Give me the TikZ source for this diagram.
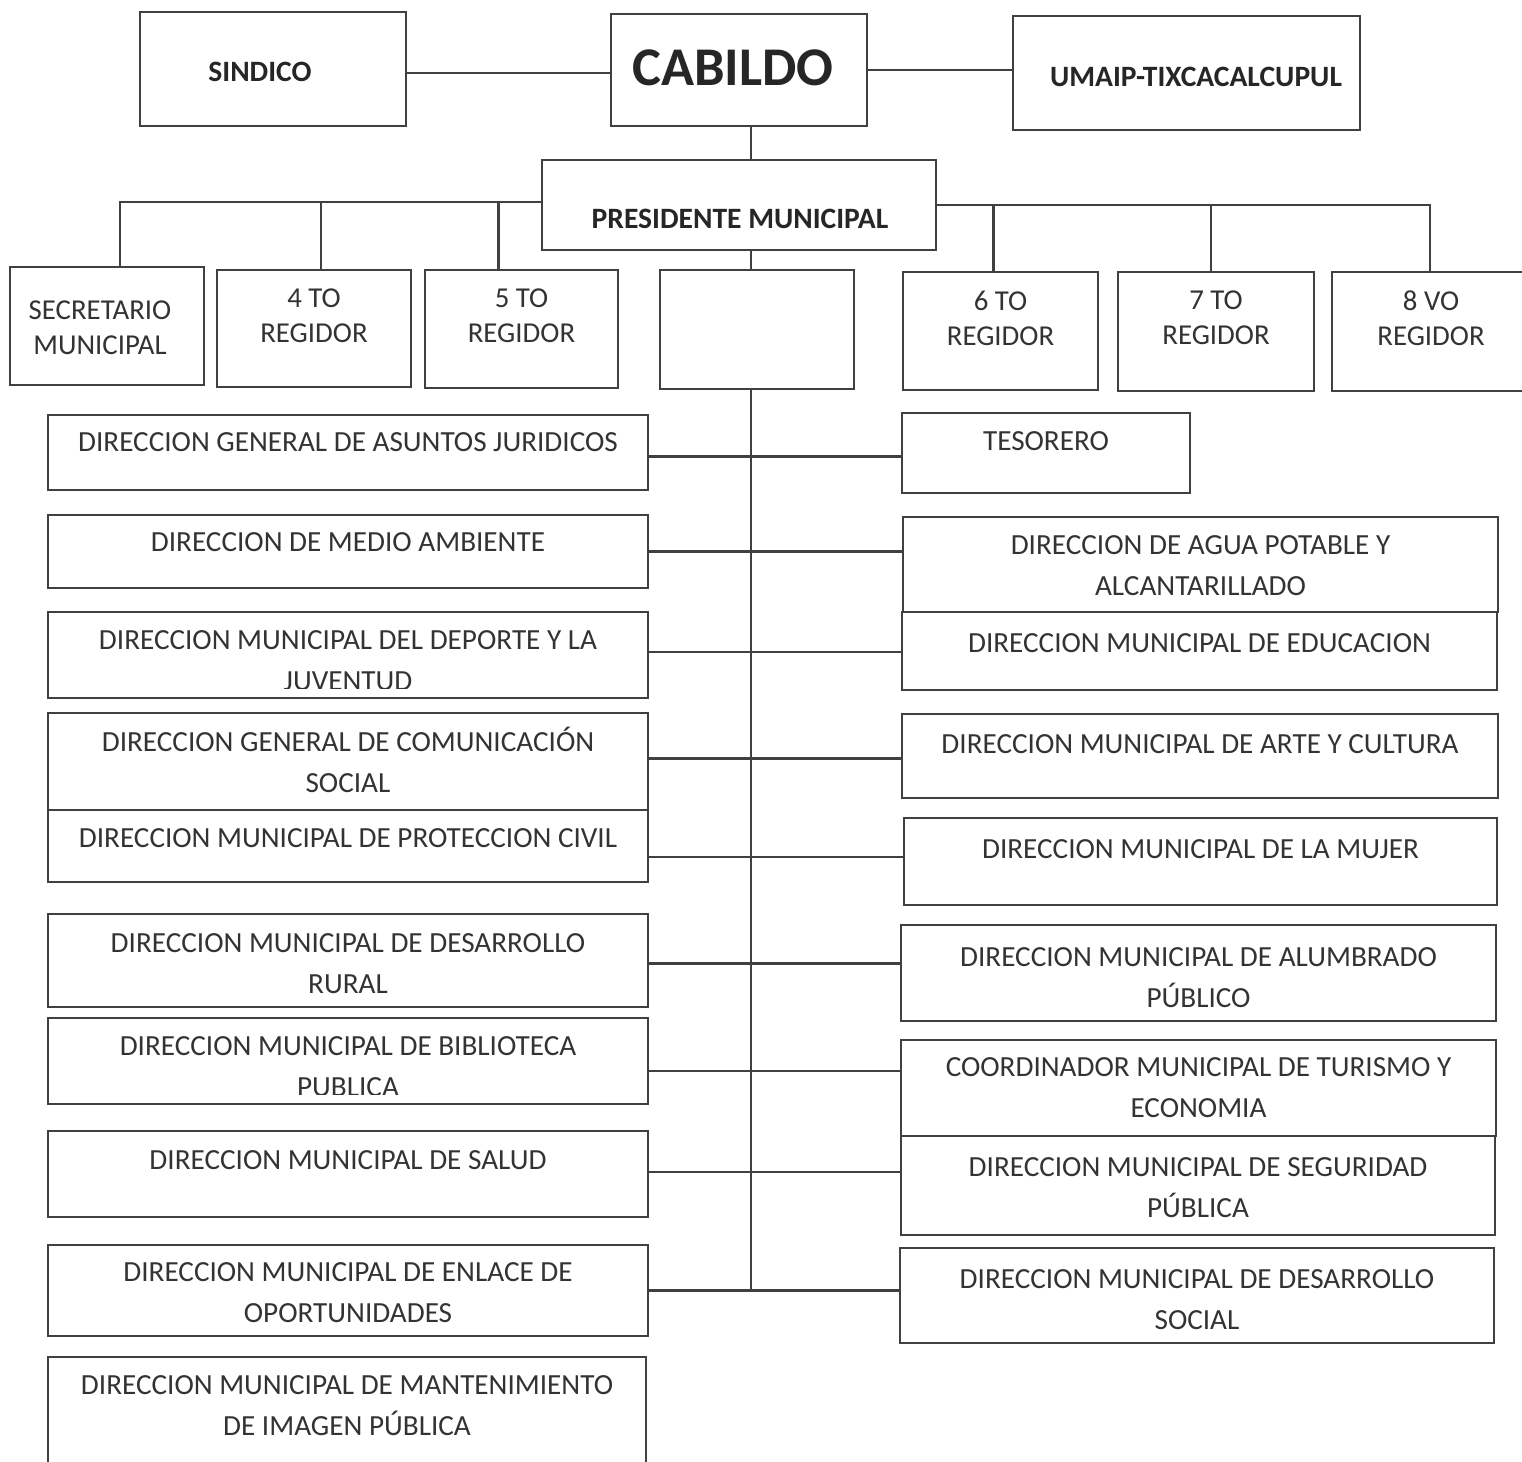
\documentclass[tikz,border=0pt]{standalone}
\usepackage{fontspec}
\setmainfont{Carlito}
\usepackage{tikz}
\newcommand*{\bodyFont}{\fontsize{8.3}{11.7}\selectfont}
\newcommand*{\regFont}{\fontsize{8.2}{10}\selectfont}
\newcommand*{\headFont}{\fontsize{8.4}{10}\selectfont\bfseries}
\newcommand*{\bigFont}{\fontsize{15.5}{18}\selectfont\bfseries}
\usetikzlibrary{positioning}
\usetikzlibrary{calc}
\usetikzlibrary{fit}
\tikzset{orgchart/.style={
    x=0.01cm,% one unit per pixel of the scan
    y=-0.01cm,% rows counted downwards
    orgbox/.style={draw=black!75, line width=0.6pt, inner sep=0pt},
    orgtext/.style={anchor=north, align=center, inner sep=0pt, text=black!80,
      font=\bodyFont},
    regtext/.style={orgtext, font=\regFont},
    headtext/.style={inner sep=0pt, text=black!85, font=\headFont},
    link/.style={draw=black!75, line width=0.6pt}
  }
}

\begin{document}
\begin{tikzpicture}[orgchart]
    \fill[white] (0,0) rectangle (1522,1461);
    \useasboundingbox (0,0) rectangle (1522,1461);

    % top row
    \node[orgbox, fit={(140,12)(406,126)}] (sindico) {};
    \node[headtext] (sindico-t) at (260,72) {SINDICO};
    \node[orgbox, fit={(611,14)(867,126)}] (cabildo) {};
    \node[headtext, font=\bigFont] (cabildo-t) at (733,68) {CABILDO};
    \node[orgbox, fit={(1013,16)(1360,130)}] (umaip) {};
    \node[headtext] (umaip-t) at (1196,77) {UMAIP-TIXCACALCUPUL};
    \node[orgbox, fit={(542,160)(936,250)}] (presidente) {};
    \node[headtext] (presidente-t) at (740,219) {PRESIDENTE MUNICIPAL};

    % regidores
    \node[orgbox, fit={(10,267)(204,385)}] (sec) {};
    \node[regtext] (sec-t) at (100,300) {SECRETARIO\\MUNICIPAL};
    \node[orgbox, fit={(660,270)(854,389)}] (blank) {};
    \foreach \name/\xa/\ya/\xb/\yb/\txt in {
        reg4/217/270/411/387/{4 TO\\REGIDOR},
        reg5/425/270/618/388/{5 TO\\REGIDOR},
        reg6/903/272/1098/390/{6 TO\\REGIDOR},
        reg7/1118/272/1314/391/{7 TO\\REGIDOR},
        reg8/1332/272/1530/391/{8 VO\\REGIDOR}} {
        \node[orgbox, fit={(\xa,\ya)(\xb,\yb)}] (\name) {};
        \node[regtext] (\name-t) at ($(\name.north)+(0,19)$) {\txt};
    }

    % direcciones
    \foreach \name/\xa/\ya/\xb/\yb/\off/\cut/\txt in {
        jur/48/415/648/490/18/0/{DIRECCION GENERAL DE ASUNTOS JURIDICOS},
        medio/48/515/648/588/18/0/{DIRECCION DE MEDIO AMBIENTE},
        deporte/48/612/648/698/19/11/{DIRECCION MUNICIPAL DEL DEPORTE Y LA\\JUVENTUD},
        comun/48/713/648/810/14/0/{DIRECCION GENERAL DE COMUNICACIÓN\\SOCIAL},
        civil/48/810/648/882/19/0/{DIRECCION MUNICIPAL DE PROTECCION CIVIL},
        rural/48/914/648/1007/20/0/{DIRECCION MUNICIPAL DE DESARROLLO\\RURAL},
        biblio/48/1018/648/1104/19/11/{DIRECCION MUNICIPAL DE BIBLIOTECA\\PUBLICA},
        salud/48/1131/648/1217/20/0/{DIRECCION MUNICIPAL DE SALUD},
        enlace/48/1245/648/1336/18/0/{DIRECCION MUNICIPAL DE ENLACE DE\\OPORTUNIDADES},
        mant/48/1357/646/1475/19/0/{DIRECCION MUNICIPAL DE MANTENIMIENTO\\DE IMAGEN PÚBLICA},
        tes/902/413/1190/493/19/0/{TESORERO},
        agua/903/517/1498/612/19/0/{DIRECCION DE AGUA POTABLE Y\\ALCANTARILLADO},
        educ/902/612/1497/690/22/0/{DIRECCION MUNICIPAL DE EDUCACION},
        arte/902/714/1498/798/21/0/{DIRECCION MUNICIPAL DE ARTE Y CULTURA},
        mujer/904/818/1497/905/22/0/{DIRECCION MUNICIPAL DE LA MUJER},
        alum/901/925/1496/1021/23/0/{DIRECCION MUNICIPAL DE ALUMBRADO\\PÚBLICO},
        tur/901/1040/1496/1136/18/0/{COORDINADOR MUNICIPAL DE TURISMO Y\\ECONOMIA},
        seg/901/1136/1495/1235/22/0/{DIRECCION MUNICIPAL DE SEGURIDAD\\PÚBLICA},
        social/900/1248/1494/1343/22/0/{DIRECCION MUNICIPAL DE DESARROLLO\\SOCIAL}} {
        \node[orgbox, fit={(\xa,\ya)(\xb,\yb)}] (\name) {};
        \begin{scope}
            \clip (\name.north west) rectangle ([yshift=\cut*0.01cm]\name.south east);
            \node[orgtext] (\name-t) at ($(\name.north)+(0,\off)$) {\txt};
        \end{scope}
    }

    % connectors
    \coordinate (spine) at (751,0);
    \coordinate (sindico-c) at ([yshift=-0.04cm]sindico.east);
    \draw[link] (sindico-c) -- (sindico-c -| cabildo.west);
    \draw[link] (cabildo.east) -- (cabildo.east -| umaip.west);
    \draw[link] (cabildo.south -| spine) -- (presidente.north -| spine);
    \draw[link] (presidente.south -| spine) -- (blank.north -| spine);
    \foreach \n/\dx in {sec/13, reg4/7, reg5/-23}
        \draw[link] ([xshift=\dx*0.01cm]\n.north) |- ([yshift=0.03cm]presidente.west);
    \foreach \n/\dx in {reg6/-7, reg7/-5, reg8/-1}
        \draw[link] ([xshift=\dx*0.01cm]\n.north) |- (presidente.east);
    \foreach \l/\r/\dy in {jur/tes/-4, medio/agua/0, deporte/educ/3, comun/arte/3,
        civil/mujer/-11, rural/alum/-3, biblio/tur/-10, salud/seg/2, enlace/social/0} {
        \coordinate (\l-c) at ([yshift=\dy*0.01cm]\l.east);
        \draw[link] (\l-c) -- (\l-c -| \r.west);
    }
    \draw[link] (blank.south -| spine) -- (enlace-c -| spine);
\end{tikzpicture}
\end{document}
